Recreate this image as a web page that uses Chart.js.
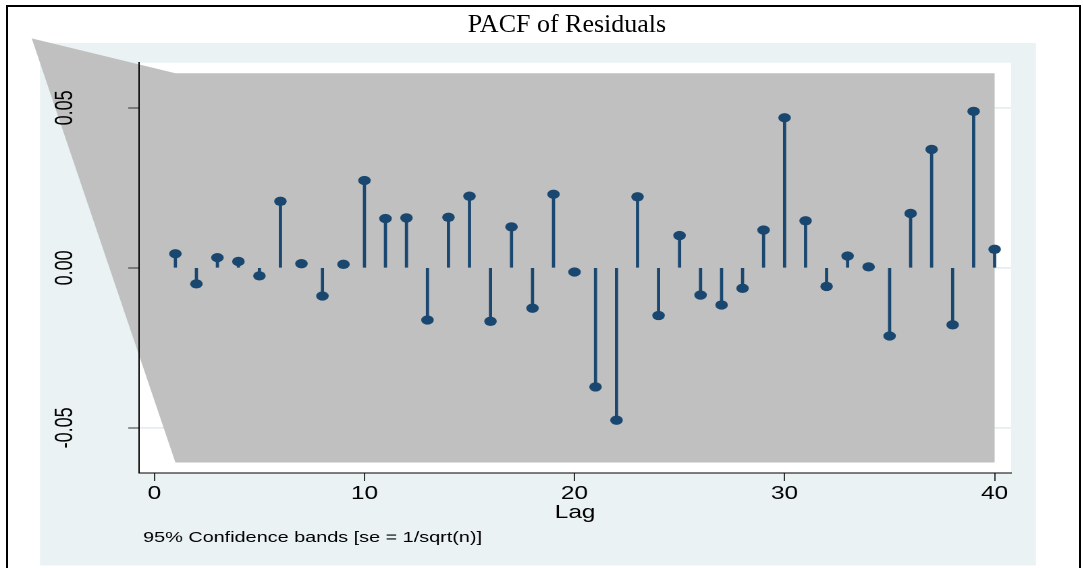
<!DOCTYPE html>
<html>
<head>
<meta charset="utf-8">
<script src="https://cdn.jsdelivr.net/npm/chart.js@4"></script>
<style>
  html, body { margin: 0; padding: 0; background: #fff; overflow: hidden; width: 1083px; height: 568px; }
  #wrap { position: absolute; left: 0; top: 0; width: 802px; height: 568px; transform: scaleX(1.35); transform-origin: 0 0; }
  #frame { position: absolute; left: 6px; top: 5px; right: 2px; bottom: -10px; border: 2px solid #000; border-bottom: none; }
  #title { position: absolute; left: 367px; width: 400px; top: 9px; line-height: 30px; text-align: center;
           font-family: "Liberation Serif", serif; font-size: 26px; color: #000; }
</style>
</head>
<body>
<div id="wrap"><canvas id="chart" width="802" height="568"></canvas></div>
<div id="frame"></div>
<div id="title">PACF of Residuals</div>
<script>
// partial autocorrelations, lags 1..40
const lags = [1, 2, 3, 4, 5, 6, 7, 8, 9, 10, 11, 12, 13, 14, 15, 16, 17, 18, 19, 20,
  21, 22, 23, 24, 25, 26, 27, 28, 29, 30, 31, 32, 33, 34, 35, 36, 37, 38, 39, 40];
const pacf = [0.0044, -0.0050, 0.0032, 0.0020, -0.0025, 0.0208, 0.0013, -0.0088, 0.0011, 0.0273,
  0.0154, 0.0156, -0.0163, 0.0158, 0.0224, -0.0167, 0.0128, -0.0126, 0.0230, -0.0013,
  -0.0372, -0.0476, 0.0222, -0.0149, 0.0101, -0.0085, -0.0116, -0.0064, 0.0118, 0.0469,
  0.0147, -0.0058, 0.0037, 0.0003, -0.0213, 0.0170, 0.0370, -0.0178, 0.0489, 0.0058];

// confidence band outline (as drawn in the source graph)
const bandLags = [-5.84, 1, 40];
const bandUpper = [0.0717, 0.0608, 0.0608];
const bandLower = [0.0717, -0.0608, -0.0608];

const xTicks = [0, 10, 20, 30, 40];
const yTicks = [-0.05, 0, 0.05];
const note = "95% Confidence bands [se = 1/sqrt(n)]";

const navy = "#1a476f";
const sans = "'Liberation Sans', Arial, sans-serif";

const backdrop = {
  id: "backdrop",
  beforeDraw(chart) {
    const { ctx, chartArea: a, scales: { x, y } } = chart;
    ctx.save();
    ctx.fillStyle = "#eaf2f3";
    ctx.fillRect(29.6, 43, 737.8, 522.5);
    ctx.fillStyle = "#ffffff";
    ctx.fillRect(a.left, a.top, a.right - a.left, a.bottom - a.top);

    ctx.strokeStyle = "#e2ebee";
    ctx.lineWidth = 1.5;
    yTicks.forEach((v) => {
      const py = y.getPixelForValue(v);
      ctx.beginPath();
      ctx.moveTo(a.left, py);
      ctx.lineTo(a.right, py);
      ctx.stroke();
    });

    ctx.fillStyle = "#c0c0c0";
    ctx.beginPath();
    bandLags.forEach((l, i) => {
      ctx.lineTo(x.getPixelForValue(l), y.getPixelForValue(bandUpper[i]));
    });
    for (let i = bandLags.length - 1; i >= 0; i--) {
      ctx.lineTo(x.getPixelForValue(bandLags[i]), y.getPixelForValue(bandLower[i]));
    }
    ctx.closePath();
    ctx.fill();
    ctx.restore();
  },
  afterDraw(chart) {
    const ctx = chart.ctx;
    ctx.save();
    ctx.fillStyle = "#000";
    ctx.font = "14.7px " + sans;
    ctx.textBaseline = "alphabetic";
    ctx.fillText(note, 106, 542);
    ctx.restore();
  },
};

const points = lags.map((l, i) => ({ x: l, y: pacf[i] }));

new Chart(document.getElementById("chart"), {
  type: "bar",
  data: {
    datasets: [
      {
        type: "scatter",
        data: points,
        pointRadius: 4.65,
        pointHoverRadius: 4.65,
        pointBackgroundColor: navy,
        pointBorderWidth: 0,
        order: 0,
      },
      {
        type: "bar",
        data: points,
        backgroundColor: navy,
        borderWidth: 0,
        barThickness: 1.7,
        order: 1,
      },
    ],
  },
  options: {
    responsive: false,
    animation: false,
    devicePixelRatio: 2,
    events: [],
    layout: { padding: { top: 62.7, right: 53.1, bottom: 0, left: 0 } },
    plugins: { legend: { display: false }, tooltip: { enabled: false } },
    scales: {
      x: {
        type: "linear",
        min: -0.73,
        max: 40.78,
        offset: false,
        afterBuildTicks: (s) => { s.ticks = xTicks.map((v) => ({ value: v })); },
        afterFit: (s) => { s.height = 95; },
        grid: { offset: false, drawOnChartArea: false, tickLength: 8, color: "#333", tickColor: "#333" },
        border: { color: "#000", width: 1 },
        ticks: { autoSkip: false, maxRotation: 0, padding: 2, color: "#000", font: { family: sans, size: 18 } },
        title: { display: true, text: "Lag", color: "#000", font: { family: sans, size: 18 }, padding: { top: 0, bottom: 44 } },
      },
      y: {
        type: "linear",
        min: -0.0641,
        max: 0.0641,
        afterBuildTicks: (s) => { s.ticks = yTicks.map((v) => ({ value: v })); },
        afterFit: (s) => { s.width = 103; },
        grid: { drawOnChartArea: false, tickLength: 8, color: "#333", tickColor: "#333" },
        border: { color: "#000", width: 1 },
        ticks: {
          minRotation: 90,
          maxRotation: 90,
          crossAlign: "center",
          padding: 26,
          color: "#000",
          font: { family: sans, size: 18 },
          callback: (v) => v.toFixed(2),
        },
      },
    },
  },
  plugins: [backdrop],
});
</script>
</body>
</html>
